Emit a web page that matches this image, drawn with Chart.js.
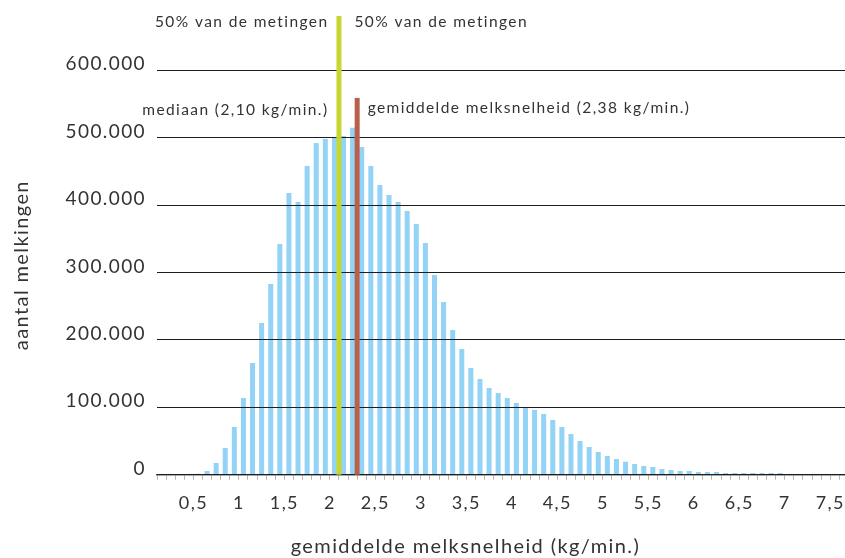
<!DOCTYPE html>
<html>
<head>
<meta charset="utf-8">
<script src="https://cdn.jsdelivr.net/npm/chart.js@4/dist/chart.umd.min.js"></script>
<style>
  html, body { margin: 0; padding: 0; background: #ffffff; }
  #wrap { width: 845px; height: 558px; }
</style>
</head>
<body>
<div id="wrap"><canvas id="c" width="845" height="558"></canvas></div>
<script>
// ---- data ----
const binCenters = [
  0.15, 0.25, 0.35, 0.45, 0.55, 0.65, 0.75, 0.85, 0.95,
  1.05, 1.15, 1.25, 1.35, 1.45, 1.55, 1.65, 1.75, 1.85, 1.95,
  2.05, 2.15, 2.25, 2.35, 2.45, 2.55, 2.65, 2.75, 2.85, 2.95,
  3.05, 3.15, 3.25, 3.35, 3.45, 3.55, 3.65, 3.75, 3.85, 3.95,
  4.05, 4.15, 4.25, 4.35, 4.45, 4.55, 4.65, 4.75, 4.85, 4.95,
  5.05, 5.15, 5.25, 5.35, 5.45, 5.55, 5.65, 5.75, 5.85, 5.95,
  6.05, 6.15, 6.25, 6.35, 6.45, 6.55, 6.65, 6.75, 6.85, 6.95,
  7.05, 7.15, 7.25, 7.35, 7.45, 7.55, 7.65
];
const counts = [
  0, 0, 0, 0, 1500, 5500, 17400, 39600, 70800,
  113800, 165700, 225000, 282900, 342300, 418000, 404700, 458100, 492200, 498100,
  500500, 502500, 514800, 486400, 458100, 429900, 415000, 404700, 391300, 372000,
  343800, 296300, 256200, 214700, 186500, 158300, 142000, 128700, 121300, 113800,
  106400, 100400, 96000, 90100, 81200, 70800, 60400, 50000, 41100, 33700,
  27700, 23300, 19300, 15900, 12900, 11400, 8500, 7000, 5500, 5500,
  4000, 4000, 4000, 2500, 2500, 2500, 2500, 2500, 2500, 2500,
  1000, 800, 800, 700, 700, 600, 600
];
const yTickValues = [0, 100000, 200000, 300000, 400000, 500000, 600000];
const yTickLabels = ['0', '100.000', '200.000', '300.000', '400.000', '500.000', '600.000'];
const xTickValues = [0.5, 1, 1.5, 2, 2.5, 3, 3.5, 4, 4.5, 5, 5.5, 6, 6.5, 7, 7.5];
const xTickLabels = ['0,5', '1', '1,5', '2', '2,5', '3', '3,5', '4', '4,5', '5', '5,5', '6', '6,5', '7', '7,5'];

const medianPos = 2.10;          // green marker
const medianTop = 680600;
const meanPos = 2.30;            // red marker as drawn in the reference
const meanTop = 559000;
const halfText = '50% van de metingen';
const medianText = 'mediaan (2,10 kg/min.)';
const meanText = 'gemiddelde melksnelheid (2,38 kg/min.)';
const xTitle = 'gemiddelde melksnelheid (kg/min.)';
const yTitle = 'aantal melkingen';

const FONT = 'Lato, "Open Sans", sans-serif';
const TEXT = '#333333';
const SPACING = '1.4px';

const points = binCenters.map((c, i) => ({ x: c, y: counts[i] }));
const tickMarks = binCenters.map(c => Math.round((c - 0.05) * 100) / 100);

function xLabelFor(v) {
  for (let i = 0; i < xTickValues.length; i++) {
    if (Math.abs(xTickValues[i] - v) < 1e-6) return xTickLabels[i];
  }
  return '';
}
function yLabelFor(v) {
  const i = yTickValues.indexOf(v);
  return i >= 0 ? yTickLabels[i] : '';
}
function noPad(scale) {
  scale.paddingTop = 0; scale.paddingBottom = 0;
  scale.paddingLeft = 0; scale.paddingRight = 0;
}

const spacing = {
  id: 'spacing',
  beforeInit(chart) { if ('letterSpacing' in chart.ctx) chart.ctx.letterSpacing = SPACING; },
  beforeUpdate(chart) { if ('letterSpacing' in chart.ctx) chart.ctx.letterSpacing = SPACING; }
};

const markers = {
  id: 'markers',
  afterDraw(chart) {
    const { ctx, scales: { x, y } } = chart;
    const w = 5;
    const y0 = y.getPixelForValue(0);
    const mx = x.getPixelForValue(medianPos);
    const gt = y.getPixelForValue(medianTop);
    const rx = x.getPixelForValue(meanPos);
    const rt = y.getPixelForValue(meanTop);
    ctx.save();
    ctx.fillStyle = '#c7d630';
    ctx.fillRect(mx - w / 2, gt, w, y0 - gt);
    ctx.fillStyle = '#b8604a';
    ctx.fillRect(rx - w / 2, rt, w, y0 - rt);

    ctx.fillStyle = TEXT;
    ctx.textBaseline = 'middle';
    ctx.font = '15.5px ' + FONT;
    const ty = y.getPixelForValue(671000);
    ctx.textAlign = 'right';
    ctx.fillText(halfText, mx - w / 2 - 8, ty);
    ctx.textAlign = 'left';
    ctx.fillText(halfText, mx + w / 2 + 13, ty);

    ctx.textAlign = 'right';
    ctx.fillText(medianText, mx - w / 2 - 8, y.getPixelForValue(541000));
    ctx.textAlign = 'left';
    ctx.fillText(meanText, rx + w / 2 + 8, y.getPixelForValue(544000));

    // axis titles
    ctx.font = '20px ' + FONT;
    ctx.textAlign = 'center';
    ctx.fillText(xTitle, x.getPixelForValue(3.49), 547);
    ctx.translate(22, y.getPixelForValue(311000));
    ctx.rotate(-Math.PI / 2);
    ctx.fillText(yTitle, 0, 0);
    ctx.restore();
  }
};

new Chart(document.getElementById('c'), {
  type: 'bar',
  data: {
    datasets: [{
      data: points,
      backgroundColor: '#93d4f6',
      borderWidth: 0,
      barPercentage: 0.55,
      categoryPercentage: 1.0
    }]
  },
  options: {
    responsive: false,
    animation: false,
    devicePixelRatio: 1,
    layout: { padding: { top: 16, left: 0, right: 0, bottom: 0 } },
    plugins: { legend: { display: false }, tooltip: { enabled: false } },
    scales: {
      x: {
        type: 'linear',
        min: 0.1,
        max: 7.662,
        offset: false,
        afterBuildTicks(scale) { scale.ticks = tickMarks.map(v => ({ value: v })); },
        afterFit(scale) { noPad(scale); scale.height = 83.3; },
        grid: { display: true, drawOnChartArea: false, drawTicks: true, tickLength: 5, color: '#b5b5b5', offset: false },
        border: { display: true, color: '#555555', width: 1.5 },
        ticks: {
          autoSkip: false, maxRotation: 0, minRotation: 0, padding: 13,
          color: TEXT, font: { family: FONT, size: 18 },
          callback: (v) => xLabelFor(v)
        },
        title: { display: false }
      },
      y: {
        min: 0,
        max: 680600,
        afterBuildTicks(scale) { scale.ticks = yTickValues.map(v => ({ value: v })); },
        afterFit(scale) { noPad(scale); scale.width = 157; },
        grid: { color: '#1e1e1e', lineWidth: 1, drawTicks: false, z: 1 },
        border: { display: false },
        ticks: {
          padding: 11, labelOffset: -6, color: TEXT,
          font: { family: FONT, size: 19 },
          callback: (v) => yLabelFor(v)
        },
        title: { display: false }
      }
    }
  },
  plugins: [spacing, markers]
});
</script>
</body>
</html>
